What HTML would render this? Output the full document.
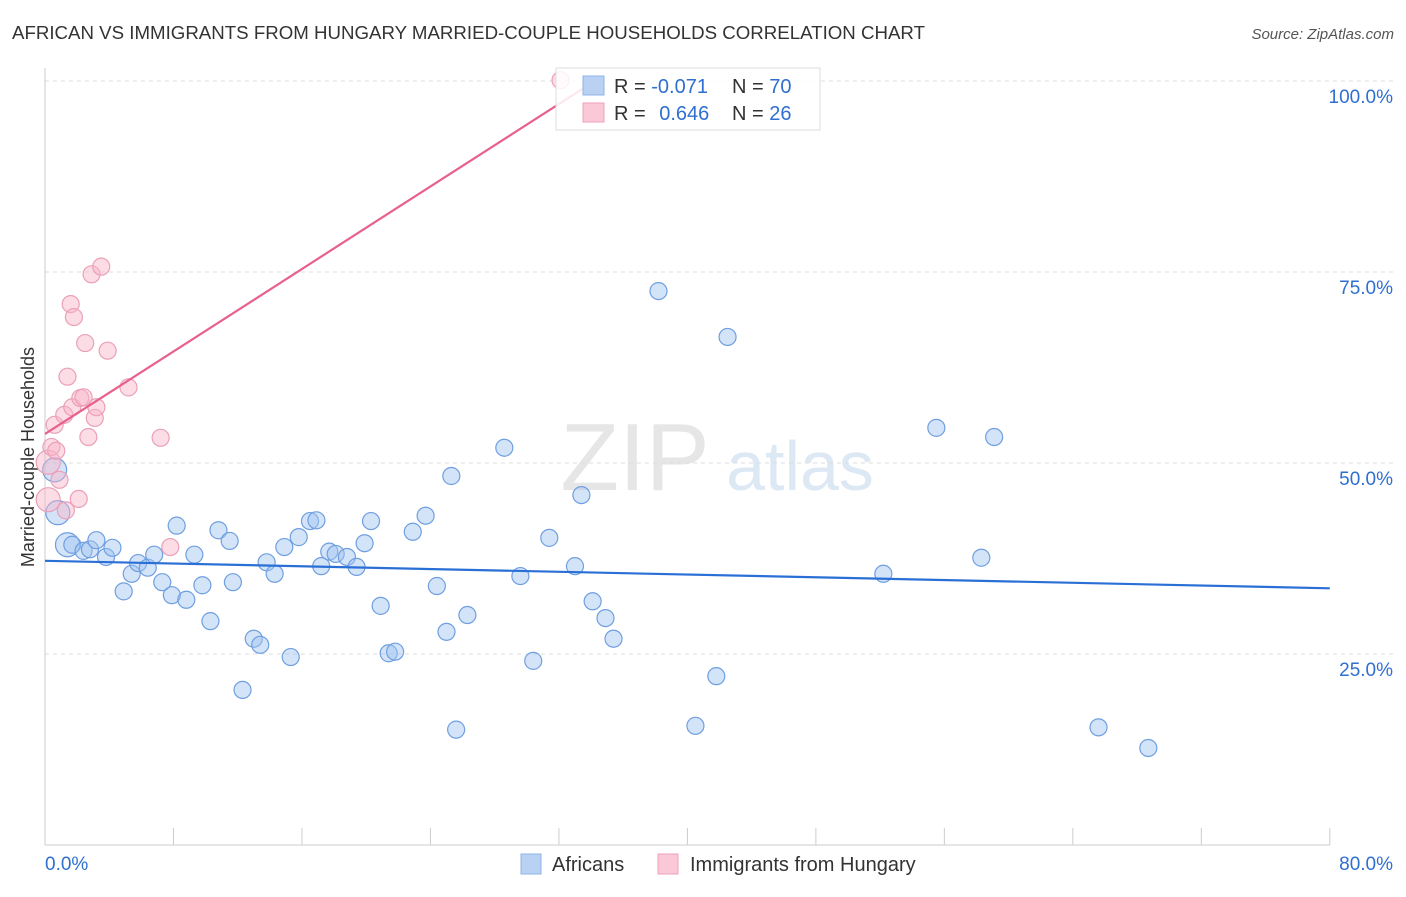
<!DOCTYPE html>
<html><head><meta charset="utf-8">
<style>
body{margin:0;background:#fff;font-family:"Liberation Sans",sans-serif;}
svg text{font-family:"Liberation Sans",sans-serif;}
</style></head>
<body>
<svg id="chart" width="1406" height="892" xmlns="http://www.w3.org/2000/svg">
<text x="12" y="39" font-size="18" fill="#333" textLength="913" lengthAdjust="spacingAndGlyphs">AFRICAN VS IMMIGRANTS FROM HUNGARY MARRIED-COUPLE HOUSEHOLDS CORRELATION CHART</text>
<text x="1394" y="39" font-size="15" fill="#555" font-style="italic" text-anchor="end">Source: ZipAtlas.com</text>
<text x="635" y="490" font-size="96" fill="#e6e6e6" font-family="Liberation Serif" text-anchor="middle">ZIP</text>
<text x="800" y="490" font-size="70" fill="#dde8f5" text-anchor="middle">atlas</text>
<text transform="translate(34,457) rotate(-90)" font-size="18" fill="#333" text-anchor="middle">Married-couple Households</text>
<g id="grid"></g><g id="marks"></g>
<g>
<rect x="556" y="68" width="264" height="62" fill="rgba(255,255,255,0.85)" stroke="#ddd"/>
<rect x="583" y="76" width="21" height="19" fill="#b9d1f3" stroke="#8fb3e8"/>
<rect x="583" y="103" width="21" height="19" fill="#fbc8d7" stroke="#f0a0b8"/>
<text x="614" y="93" font-size="20" fill="#333">R = <tspan fill="#2f6fd0">-0.071</tspan></text>
<text x="732" y="93" font-size="20" fill="#333">N = <tspan fill="#2f6fd0">70</tspan></text>
<text x="614" y="120" font-size="20" fill="#333">R = <tspan fill="#2f6fd0" dx="8">0.646</tspan></text>
<text x="732" y="120" font-size="20" fill="#333">N = <tspan fill="#2f6fd0">26</tspan></text>
</g>
<g>
<rect x="521" y="854" width="20" height="20" fill="#b9d1f3" stroke="#8fb3e8"/>
<text x="552" y="871" font-size="20" fill="#333">Africans</text>
<rect x="658" y="854" width="20" height="20" fill="#fbc8d7" stroke="#f0a0b8"/>
<text x="690" y="871" font-size="20" fill="#333">Immigrants from Hungary</text>
</g>
<text x="45" y="870" font-size="19" fill="#2f6fd0">0.0%</text>
<text x="1393" y="870" font-size="19" fill="#2f6fd0" text-anchor="end">80.0%</text>
</svg>
<script>
const yTicks=[25,50,75,100];
const yTickLabels=["25.0%","50.0%","75.0%","100.0%"];
const xTicks=[0,8,16,24,32,40,48,56,64,72,80];
const blueX=[0.6,0.8,1.4,1.7,2.4,2.8,3.2,3.8,4.2,4.9,5.4,5.8,6.4,6.8,7.3,7.9,8.2,8.8,9.3,9.8,10.3,10.8,11.5,11.7,12.3,13.0,13.4,13.8,14.3,14.9,15.3,15.8,16.5,16.9,17.2,17.7,18.1,18.8,19.4,19.9,20.3,20.9,21.4,21.8,22.9,23.7,24.4,25.0,25.3,25.6,26.3,28.6,29.6,30.4,31.4,33.0,33.4,34.1,34.9,35.4,38.2,40.5,41.8,42.5,52.2,55.5,58.3,59.1,65.6,68.7];
const blueY=[49.1,43.5,39.3,39.3,38.5,38.7,39.9,37.7,38.9,33.2,35.5,36.9,36.3,38.0,34.4,32.7,41.8,32.1,38.0,34.0,29.3,41.2,39.8,34.4,20.3,27.0,26.2,37.0,35.5,39.0,24.6,40.3,42.4,42.5,36.5,38.4,38.1,37.7,36.4,39.5,42.4,31.3,25.1,25.3,41.0,43.1,33.9,27.9,48.3,15.1,30.1,52.0,35.2,24.1,40.2,36.5,45.8,31.9,29.7,27.0,72.5,15.6,22.1,66.5,35.5,54.6,37.6,53.4,15.4,12.7];
const pinkX=[0.2,0.2,0.4,0.6,0.7,0.9,1.2,1.3,1.4,1.6,1.8,1.7,2.1,2.2,2.4,2.5,2.7,2.9,3.1,3.2,3.5,3.9,5.2,7.2,7.8,32.1];
const pinkY=[45.2,50.1,52.1,55.0,51.6,47.8,56.3,43.8,61.3,70.8,69.1,57.3,45.3,58.5,58.6,65.7,53.4,74.7,55.9,57.3,75.7,64.7,59.9,53.3,39.0,100.1];
const blueTrend=[37.2,33.6];
const pinkTrend=[53.8,100.5,34.6];
const blueBig=[0,1,2];const pinkBig=[0,1];
const X=v=>45+v*16.06, Y=v=>463-(v-50)*7.64;
const NS="http://www.w3.org/2000/svg";
const grid=document.getElementById('grid'), marks=document.getElementById('marks');
function mk(tag,attrs,parent){const e=document.createElementNS(NS,tag);for(const k in attrs)e.setAttribute(k,attrs[k]);parent.appendChild(e);return e;}
yTicks.forEach((t,i)=>{
 const l=mk('line',{x1:45,x2:1393,y1:Y(t),y2:Y(t),stroke:'#ddd','stroke-dasharray':'4,4'},grid);
 
 
 const tx=mk('text',{x:1393,y:Y(t)+22,'font-size':19,fill:'#2f6fd0','text-anchor':'end'},grid);
 tx.textContent=yTickLabels[i];
 
 
});
const ax=mk('line',{x1:45,x2:1330,y1:845,y2:845,stroke:'#ccc'},grid);


const ay=mk('line',{x1:45,x2:45,y1:68,y2:845,stroke:'#ccc'},grid);


xTicks.forEach(t=>{
 const l=mk('line',{x1:X(t),x2:X(t),y1:828,y2:845,stroke:'#ccc'},grid);
 
 
});
blueX.forEach((x,i)=>{
 const c=mk('circle',{cx:X(x),cy:Y(blueY[i]),r:blueBig.includes(i)?12:8.5,fill:'rgba(160,195,240,0.45)',stroke:'#6f9fe0','stroke-width':1.2},marks);
 
 
});
pinkX.forEach((x,i)=>{
 const c=mk('circle',{cx:X(x),cy:Y(pinkY[i]),r:pinkBig.includes(i)?12:8.5,fill:'rgba(248,180,200,0.45)',stroke:'#eba0b8','stroke-width':1.2},marks);
 
 
});
const bl=mk('line',{x1:X(0),y1:Y(blueTrend[0]),x2:X(80),y2:Y(blueTrend[1]),stroke:'#2a6fd6','stroke-width':2.2},marks);


const pl=mk('line',{x1:X(0),y1:Y(pinkTrend[0]),x2:X(pinkTrend[2]),y2:Y(pinkTrend[1]),stroke:'#e8608c','stroke-width':2.2},marks);


</script>
</body></html>
